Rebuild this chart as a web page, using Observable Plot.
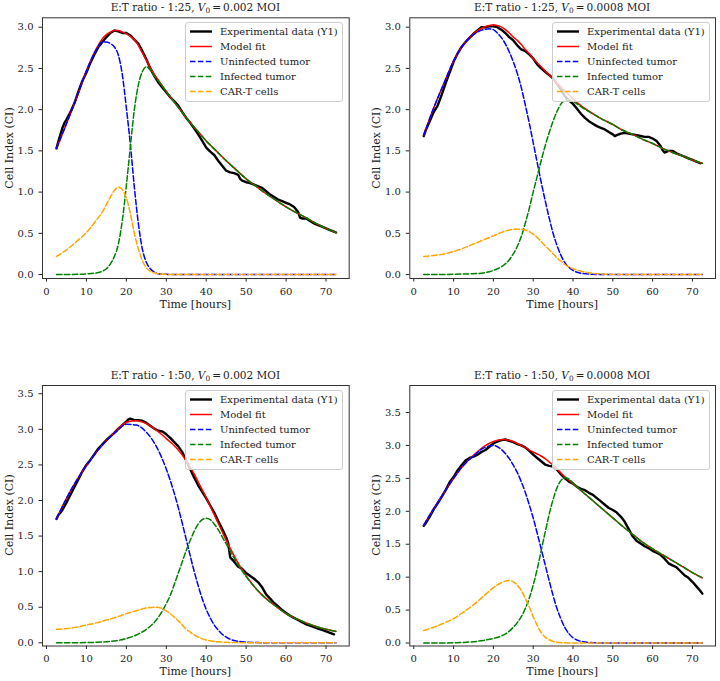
<!DOCTYPE html>
<html><head><meta charset="utf-8">
<script src="https://cdn.jsdelivr.net/npm/d3@7"></script>
<script src="https://cdn.jsdelivr.net/npm/@observablehq/plot@0.6"></script>
<style>
body{margin:0;background:#fff;}
#root{position:relative;width:720px;height:681px;overflow:hidden;font-family:"DejaVu Serif",serif;color:#222;}
.panel{position:absolute;}
.ttl{position:absolute;font-size:10.5px;line-height:1;white-space:nowrap;transform:translate(-50%,-50%);}
.ttl sub{font-size:0.7em;vertical-align:-0.3em;line-height:0;}
.xl{position:absolute;font-size:11px;line-height:1;white-space:nowrap;transform:translate(-50%,-50%);}
.yl{position:absolute;font-size:11px;line-height:1;white-space:nowrap;transform:translate(-50%,-50%) rotate(-90deg);}
.leg{position:absolute;}
</style></head><body><div id="root"></div>
<script>
// ---- labels ----
const seriesNames = ["Experimental data (Y1)", "Model fit", "Uninfected tumor", "Infected tumor", "CAR-T cells"];
const seriesColors = ["#000000", "#ff0000", "#0000ff", "#008000", "#ffa500"];
const xTicks = [0, 10, 20, 30, 40, 50, 60, 70];
const yTicksTop = [0, 0.5, 1, 1.5, 2, 2.5, 3];
const yTicksBottom = [0, 0.5, 1, 1.5, 2, 2.5, 3, 3.5];
const etRatios = ["1:25", "1:25", "1:50", "1:50"];
const v0Values = ["0.002", "0.0008", "0.002", "0.0008"];
const xLabel = "Time [hours]";
const yLabel = "Cell Index (CI)";

// ---- model curves: [time, model fit, uninfected, infected, CAR-T] ----
const p1Model = [
[2.5,1.53,1.53,0,0.22],[5,1.83,1.83,0.001,0.30],[7.5,2.14,2.14,0.003,0.40],[10,2.47,2.47,0.008,0.51],
[12.5,2.74,2.73,0.02,0.66],[14,2.86,2.82,0.04,0.76],[15,2.91,2.82,0.07,0.85],[16,2.94,2.80,0.13,0.94],
[17,2.96,2.76,0.22,1.02],[18,2.96,2.66,0.37,1.06],[19,2.94,2.42,0.66,1.03],[20,2.92,2.02,1.08,0.93],
[21,2.89,1.58,1.55,0.74],[22,2.85,1.06,2.00,0.50],[23,2.78,0.62,2.30,0.31],[24,2.69,0.31,2.46,0.17],
[25,2.60,0.15,2.52,0.08],[26,2.51,0.07,2.48,0.04],[27,2.43,0.03,2.41,0.02],[28,2.36,0.01,2.35,0.01],
[30,2.22,0.003,2.22,0.003],[32.5,2.06,0,2.06,0],[35,1.90,0,1.90,0],[37.5,1.76,0,1.76,0],
[40,1.62,0,1.62,0],[42.5,1.50,0,1.50,0],[45,1.38,0,1.38,0],[47.5,1.27,0,1.27,0],[50,1.16,0,1.16,0],
[52.5,1.07,0,1.07,0],[55,0.98,0,0.98,0],[57.5,0.90,0,0.90,0],[60,0.82,0,0.82,0],[62.5,0.75,0,0.75,0],
[65,0.69,0,0.69,0],[67.5,0.62,0,0.62,0],[70,0.56,0,0.56,0],[72.5,0.51,0,0.51,0]];
const p2Model = [
[2.5,1.69,1.69,0,0.22],[5,2.02,2.02,0,0.23],[7.5,2.31,2.31,0.001,0.25],[10,2.59,2.59,0.003,0.28],
[12.5,2.79,2.79,0.006,0.32],[15,2.92,2.91,0.01,0.37],[17.5,3.00,2.97,0.02,0.42],[19,3.02,2.98,0.035,0.45],
[20,3.03,2.97,0.05,0.47],[21,3.02,2.93,0.07,0.49],[22.5,2.99,2.84,0.11,0.52],[24,2.93,2.70,0.18,0.54],
[25,2.88,2.58,0.25,0.55],[26,2.84,2.44,0.34,0.55],[27,2.79,2.27,0.46,0.55],[28,2.73,2.06,0.62,0.54],
[29,2.68,1.84,0.80,0.52],[30,2.62,1.60,1.00,0.49],[31,2.57,1.36,1.19,0.45],[32,2.52,1.12,1.38,0.40],
[33,2.47,0.90,1.56,0.35],[34,2.42,0.69,1.72,0.30],[35,2.37,0.50,1.86,0.25],[36,2.32,0.35,1.98,0.20],
[37,2.27,0.23,2.07,0.16],[38,2.22,0.14,2.11,0.12],[39,2.18,0.085,2.12,0.09],[40,2.13,0.05,2.10,0.07],
[42.5,2.03,0.012,2.02,0.035],[45,1.95,0.003,1.95,0.015],[47.5,1.88,0,1.88,0.006],[50,1.82,0,1.82,0.002],
[52.5,1.75,0,1.75,0],[55,1.70,0,1.70,0],[57.5,1.64,0,1.64,0],[60,1.59,0,1.59,0],[62.5,1.53,0,1.53,0],
[65,1.48,0,1.48,0],[67.5,1.44,0,1.44,0],[70,1.39,0,1.39,0],[72.5,1.35,0,1.35,0]];
const p3Model = [
[2.5,1.74,1.74,0,0.19],[5,2.03,2.03,0,0.20],[7.5,2.28,2.28,0.001,0.22],[10,2.49,2.49,0.003,0.25],
[12.5,2.68,2.68,0.007,0.28],[15,2.84,2.84,0.015,0.32],[17.5,2.98,2.97,0.03,0.36],[20,3.10,3.07,0.06,0.41],
[22.5,3.12,3.06,0.11,0.45],[25,3.08,2.96,0.19,0.49],[27.5,2.99,2.76,0.32,0.50],[30,2.87,2.44,0.55,0.45],
[31,2.82,2.28,0.67,0.41],[32,2.77,2.10,0.82,0.36],[33,2.71,1.90,0.98,0.31],[34,2.64,1.68,1.14,0.25],
[35,2.56,1.45,1.30,0.19],[36,2.47,1.22,1.44,0.15],[37,2.37,1.00,1.57,0.11],[38,2.26,0.80,1.67,0.08],
[39,2.15,0.62,1.73,0.055],[40,2.04,0.47,1.75,0.04],[41,1.92,0.35,1.73,0.03],[42,1.80,0.25,1.67,0.02],
[43,1.68,0.18,1.59,0.014],[44,1.56,0.12,1.49,0.01],[45,1.44,0.08,1.39,0.007],[46,1.33,0.05,1.29,0.005],
[47.5,1.17,0.025,1.14,0.003],[50,0.94,0.01,0.93,0.001],[52.5,0.76,0.004,0.76,0],[55,0.62,0,0.62,0],
[57.5,0.51,0,0.51,0],[60,0.41,0,0.41,0],[62.5,0.34,0,0.34,0],[65,0.28,0,0.28,0],[67.5,0.23,0,0.23,0],
[70,0.19,0,0.19,0],[72.5,0.16,0,0.16,0]];
const p4Model = [
[2.5,1.79,1.79,0,0.19],[5,2.04,2.04,0,0.24],[7.5,2.27,2.27,0.001,0.30],[10,2.50,2.50,0.005,0.37],
[12.5,2.70,2.70,0.01,0.47],[15,2.85,2.84,0.02,0.58],[17.5,2.98,2.96,0.04,0.71],[20,3.06,3.00,0.07,0.84],
[22.5,3.09,2.91,0.12,0.93],[24,3.08,2.80,0.18,0.95],[25,3.06,2.70,0.24,0.93],[26,3.03,2.59,0.31,0.88],
[27,3.00,2.45,0.40,0.80],[28,2.97,2.29,0.52,0.68],[29,2.93,2.10,0.68,0.55],[30,2.90,1.90,0.88,0.40],
[31,2.87,1.67,1.12,0.27],[32,2.84,1.43,1.40,0.16],[33,2.80,1.19,1.68,0.09],[34,2.75,0.95,1.95,0.05],
[35,2.70,0.72,2.18,0.025],[36,2.64,0.52,2.36,0.012],[37,2.58,0.36,2.47,0.006],[38,2.52,0.23,2.51,0.003],
[39,2.47,0.14,2.49,0.002],[40,2.42,0.08,2.43,0.001],[42.5,2.29,0.02,2.29,0],[45,2.16,0.005,2.16,0],
[47.5,2.03,0,2.03,0],[50,1.90,0,1.90,0],[52.5,1.77,0,1.77,0],[55,1.65,0,1.65,0],[57.5,1.53,0,1.53,0],
[60,1.43,0,1.43,0],[62.5,1.34,0,1.34,0],[65,1.25,0,1.25,0],[67.5,1.16,0,1.16,0],[70,1.07,0,1.07,0],
[72.5,0.99,0,0.99,0]];

// ---- experimental data (Y1): [time, cell index] ----
const p1Exp = [
[2.5,1.53],[3,1.62],[3.5,1.70],[4,1.78],[4.5,1.84],[5,1.88],[6,1.97],[7,2.08],[8,2.22],[9,2.35],[10,2.45],
[11,2.57],[12,2.67],[13,2.76],[14,2.82],[15,2.88],[16,2.93],[17,2.96],[18,2.95],[19,2.93],[20,2.93],
[21,2.90],[22,2.85],[23,2.80],[24,2.71],[25,2.61],[26,2.50],[27,2.41],[28,2.33],[29,2.27],[30,2.21],
[31,2.15],[32,2.10],[33,2.05],[34,1.97],[35,1.90],[36,1.84],[37,1.77],[38,1.70],[39,1.62],[40,1.54],
[41,1.49],[42,1.45],[43,1.38],[44,1.32],[45,1.26],[46,1.24],[47,1.23],[48,1.21],[48.5,1.16],[49,1.14],
[50,1.12],[51,1.11],[52,1.09],[53,1.07],[54,1.05],[55,1.01],[56,0.97],[57,0.94],[58,0.91],[59,0.89],
[60,0.87],[61,0.85],[62,0.82],[63,0.76],[63.5,0.69],[64,0.68],[65,0.68],[66,0.65],[67,0.62],[68,0.60],
[69,0.58],[70,0.56],[71,0.54],[72,0.52],[72.5,0.51]];
const p2Exp = [
[2.5,1.68],[3,1.75],[4,1.86],[5,1.97],[6,2.05],[7,2.18],[8,2.32],[9,2.45],[10,2.58],[11,2.68],[12,2.76],
[13,2.82],[14,2.87],[15,2.92],[16,2.96],[17,3.00],[18,3.00],[19,3.01],[20,3.01],[21,3.00],[22,2.97],
[23,2.93],[24,2.88],[25,2.84],[26,2.78],[27,2.73],[28,2.71],[29,2.67],[30,2.62],[31,2.55],[32,2.50],
[33,2.46],[34,2.42],[35,2.38],[36,2.31],[37,2.24],[38,2.16],[39,2.11],[40,2.07],[41,2.01],[42,1.95],
[43,1.90],[44,1.86],[45,1.83],[46,1.80],[47,1.78],[48,1.76],[49,1.73],[50,1.70],[50.5,1.68],[51,1.69],
[52,1.71],[53,1.72],[54,1.71],[55,1.70],[56,1.69],[57,1.68],[58,1.67],[59,1.67],[60,1.65],[61,1.62],
[62,1.56],[62.5,1.51],[63,1.48],[64,1.50],[65,1.50],[66,1.47],[67,1.45],[68,1.43],[69,1.41],[70,1.39],
[71,1.37],[72,1.35]];
const p3Exp = [
[2.5,1.74],[3,1.80],[3.5,1.83],[4,1.87],[5,1.97],[6,2.08],[7,2.19],[8,2.30],[9,2.41],[10,2.50],[11,2.57],
[12,2.65],[13,2.73],[14,2.79],[15,2.85],[16,2.90],[17,2.95],[18,3.01],[19,3.06],[20,3.11],[20.5,3.14],
[21,3.15],[22,3.13],[23,3.13],[24,3.12],[25,3.09],[26,3.05],[27,3.01],[28,2.98],[29,2.97],[30,2.93],
[31,2.88],[32,2.82],[33,2.76],[34,2.68],[35,2.56],[36,2.44],[37,2.32],[38,2.21],[39,2.12],[40,2.03],
[41,1.93],[42,1.83],[43,1.71],[44,1.60],[45,1.48],[45.5,1.40],[46,1.20],[47,1.14],[48,1.07],[49,1.04],
[50,0.98],[51,0.94],[52,0.90],[53,0.85],[54,0.78],[55,0.68],[56,0.62],[57,0.56],[58,0.51],[59,0.46],
[60,0.42],[61,0.38],[62,0.35],[63,0.32],[64,0.29],[65,0.26],[66,0.24],[67,0.22],[68,0.20],[69,0.18],
[70,0.16],[71,0.14],[72,0.12]];
const p4Exp = [
[2.5,1.78],[3,1.82],[4,1.92],[5,2.03],[6,2.12],[7,2.22],[8,2.32],[9,2.44],[10,2.52],[11,2.62],[12,2.70],
[13,2.77],[14,2.81],[15,2.83],[16,2.86],[17,2.90],[18,2.93],[19,2.98],[20,3.03],[21,3.06],[22,3.08],
[23,3.09],[24,3.07],[25,3.05],[26,3.02],[27,3.00],[28,2.97],[29,2.92],[30,2.86],[31,2.81],[32,2.76],
[33,2.71],[34,2.69],[35,2.68],[36,2.63],[37,2.56],[38,2.50],[39,2.45],[40,2.42],[41,2.37],[42,2.34],
[43,2.32],[44,2.28],[45,2.25],[46,2.20],[47,2.15],[48,2.10],[49,2.05],[50,2.02],[51,1.98],[52,1.92],
[53,1.84],[54,1.73],[55,1.62],[56,1.55],[57,1.51],[58,1.47],[59,1.44],[60,1.40],[61,1.37],[62,1.34],
[63,1.28],[64,1.21],[65,1.18],[66,1.15],[67,1.09],[68,1.03],[69,0.99],[70,0.93],[71,0.86],[72,0.79],
[72.5,0.75]];

// ---- layout ----
const layout = [
  {left:0,   top:0,   h:340, mL:42,   mR:11.3, mT:17.3, mB:62,   yDomain:[-0.048,3.114], yTicks:yTicksTop,    model:p1Model, exp:p1Exp},
  {left:360, top:0,   h:340, mL:49.3, mR:5,    mT:17.3, mB:62,   yDomain:[-0.048,3.114], yTicks:yTicksTop,    model:p2Model, exp:p2Exp},
  {left:0,   top:340, h:341, mL:42,   mR:11.3, mT:45,   mB:35.5, yDomain:[-0.045,3.616], yTicks:yTicksBottom, model:p3Model, exp:p3Exp},
  {left:360, top:340, h:341, mL:49.3, mR:5,    mT:45,   mB:35.5, yDomain:[-0.045,3.91],  yTicks:yTicksBottom, model:p4Model, exp:p4Exp}
];

const root = document.getElementById("root");
const dash = "5.5,2.4";
const widths = [2.4, 1.5, 1.5, 1.5, 1.5];

layout.forEach((L, i) => {
  const marks = [
    Plot.line(L.exp, {x: d => d[0], y: d => d[1], stroke: seriesColors[0], strokeWidth: widths[0]}),
    Plot.line(L.model, {x: d => d[0], y: d => d[1], stroke: seriesColors[1], strokeWidth: widths[1], curve: "monotone-x"}),
    ...[2, 3, 4].map(k => Plot.line(L.model, {x: d => d[0], y: d => d[k], stroke: seriesColors[k], strokeWidth: widths[k], strokeDasharray: dash, curve: "monotone-x"})),
    Plot.frame({stroke: "#333", strokeWidth: 1})
  ];
  const chart = Plot.plot({
    width: 360, height: L.h,
    marginLeft: L.mL, marginRight: L.mR, marginTop: L.mT, marginBottom: L.mB,
    style: {fontFamily: "DejaVu Serif", fontSize: "10px", color: "#222", background: "transparent", overflow: "visible"},
    x: {domain: [-1, 75.8], ticks: xTicks, tickSize: 3.5, tickFormat: d => String(d), label: null},
    y: {domain: L.yDomain, ticks: L.yTicks, tickSize: 3.5, tickFormat: d => d.toFixed(1), label: null},
    marks
  });
  const wrap = document.createElement("div");
  wrap.className = "panel";
  wrap.style.left = L.left + "px";
  wrap.style.top = L.top + "px";
  wrap.appendChild(chart);
  root.appendChild(wrap);

  const fL = L.left + L.mL, fR = L.left + 360 - L.mR, fT = L.top + L.mT, fB = L.top + L.h - L.mB;
  const cx = (fL + fR) / 2;

  const t = document.createElement("div");
  t.className = "ttl";
  t.style.left = cx + "px";
  t.style.top = (fT - 10.5) + "px";
  t.innerHTML = "E:T ratio - " + etRatios[i] + ", <i>V</i><sub>0</sub>&#8201;=&#8201;" + v0Values[i] + " MOI";
  root.appendChild(t);

  const xl = document.createElement("div");
  xl.className = "xl";
  xl.style.left = cx + "px";
  xl.style.top = (fB + 25.5) + "px";
  xl.textContent = xLabel;
  root.appendChild(xl);

  const yl = document.createElement("div");
  yl.className = "yl";
  yl.style.left = (L.left + 8.5 + (L.mL - 42)) + "px";
  yl.style.top = ((fT + fB) / 2) + "px";
  yl.textContent = yLabel;
  root.appendChild(yl);

  // legend
  const lw = 158, lh = 80;
  const leg = document.createElement("div");
  leg.className = "leg";
  leg.style.left = (fR - 5.3 - lw) + "px";
  leg.style.top = (fT + 5) + "px";
  let s = `<svg width="${lw}" height="${lh}" style="display:block;overflow:visible">`;
  s += `<rect x="0.5" y="0.5" width="${lw-1}" height="${lh-1}" rx="2.5" fill="#fff" fill-opacity="0.8" stroke="#cccccc" stroke-width="1"/>`;
  seriesNames.forEach((name, k) => {
    const y = 9.5 + 15 * k;
    const da = k >= 2 ? ` stroke-dasharray="${dash}"` : "";
    s += `<line x1="5" x2="27" y1="${y}" y2="${y}" stroke="${seriesColors[k]}" stroke-width="${widths[k]}"${da}/>`;
    s += `<text x="35" y="${y}" dy="0.35em" font-family="DejaVu Serif" font-size="10" fill="#222">${name}</text>`;
  });
  s += "</svg>";
  leg.innerHTML = s;
  root.appendChild(leg);
});
</script></body></html>
